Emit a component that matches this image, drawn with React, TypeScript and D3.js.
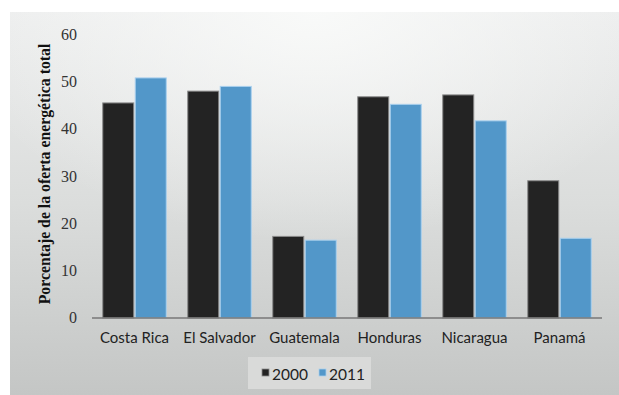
import React from "react";
import * as d3 from "d3";

const categories = ["Costa Rica", "El Salvador", "Guatemala", "Honduras", "Nicaragua", "Panamá"];
const series2000 = [45.6, 48.1, 17.3, 46.9, 47.3, 29.1];
const series2011 = [50.9, 49.1, 16.5, 45.3, 41.8, 16.9];
const seriesNames = ["2000", "2011"];
const yTicks = [0, 10, 20, 30, 40, 50, 60];

const W = 619;
const H = 395;

export default function App() {
  const x = d3.scaleBand<string>().domain(categories).range([92, 602]).paddingInner(0).paddingOuter(0);
  const y = d3.scaleLinear().domain([0, 60]).range([318, 35]);
  const barW = 31;
  const gap = 1.5;
  const colors = ["#232323", "#5297c9"];
  const strokes = ["#8a8a8a", "#a9d0ee"];
  const data = [series2000, series2011];

  return (
    <svg width={W} height={H} style={{ position: "absolute", left: 0, top: 0, display: "block" }}>
      <defs>
        <linearGradient id="bg" x1="0" y1="0" x2="0" y2="1">
          <stop offset="0" stopColor="#eceded" />
          <stop offset="0.5" stopColor="#dbdddc" />
          <stop offset="1" stopColor="#c4c6c5" />
        </linearGradient>
        <radialGradient id="hl" cx="0.5" cy="0" r="0.6" fx="0.5" fy="0">
          <stop offset="0" stopColor="#fafbfa" stopOpacity="0.9" />
          <stop offset="1" stopColor="#fafbfa" stopOpacity="0" />
        </radialGradient>
      </defs>
      <rect x={0} y={0} width={W} height={H} fill="#ffffff" />
      <rect x={10} y={12} width={W - 10} height={H - 12} fill="url(#bg)" />
      <rect x={10} y={12} width={W - 10} height={H - 12} fill="url(#hl)" />

      {/* y tick labels */}
      {yTicks.map((t) => (
        <text key={t} x={77} y={y(t) + 5} textAnchor="end" fontFamily="'Liberation Serif', serif" fontSize={16} fill="#333">
          {t}
        </text>
      ))}

      {/* y axis title */}
      <text
        transform={`translate(50,${174}) rotate(-90)`}
        textAnchor="middle"
        fontFamily="'Liberation Serif', serif"
        fontWeight="bold"
        fontSize={15.8}
        fill="#111"
      >
        Porcentaje de la oferta energética total
      </text>

      {/* bars */}
      {categories.map((c, i) => {
        const cx = (x(c) as number) + x.bandwidth() / 2;
        return data.map((s, k) => {
          const bx = k === 0 ? cx - gap / 2 - barW : cx + gap / 2;
          return (
            <rect
              key={c + k}
              x={bx}
              y={y(s[i])}
              width={barW}
              height={y(0) - y(s[i])}
              fill={colors[k]}
              stroke={strokes[k]}
              strokeWidth={1}
            />
          );
        });
      })}

      {/* axis line */}
      <line x1={92} x2={602} y1={318} y2={318} stroke="#777" strokeWidth={1.5} />

      {/* category labels */}
      {categories.map((c) => (
        <text
          key={c}
          x={(x(c) as number) + x.bandwidth() / 2}
          y={343}
          textAnchor="middle"
          fontFamily="Lato, sans-serif"
          fontSize={15}
          fill="#222"
        >
          {c}
        </text>
      ))}

      {/* legend */}
      <rect x={248} y={357} width={123} height={32} fill="#d9dad9" />
      {seriesNames.map((n, k) => {
        const lx = 262 + k * 57;
        return (
          <g key={n}>
            <rect x={lx} y={369} width={7} height={7} fill={colors[k]} stroke={strokes[k]} strokeWidth={0.8} />
            <text x={lx + 10} y={380} fontFamily="Lato, sans-serif" fontSize={15.5} fill="#222">
              {n}
            </text>
          </g>
        );
      })}
    </svg>
  );
}
